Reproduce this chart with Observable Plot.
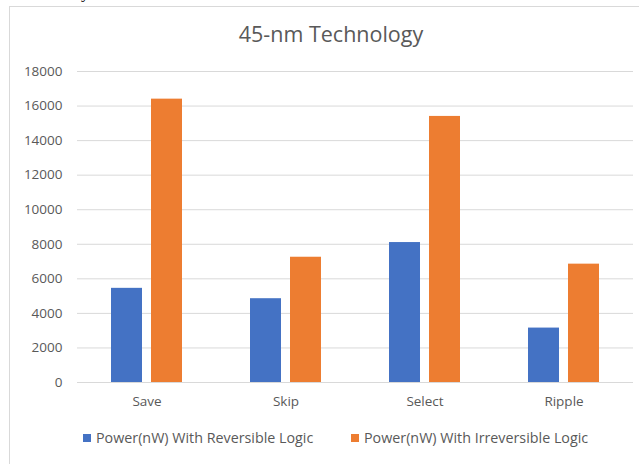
<!DOCTYPE html>
<html>
<head>
<meta charset="utf-8">
<script src="https://cdn.jsdelivr.net/npm/d3@7"></script>
<script src="https://cdn.jsdelivr.net/npm/@observablehq/plot@0.6"></script>
<style>
  html, body { margin: 0; padding: 0; background: #fff; }
  body { width: 639px; height: 464px; overflow: hidden; position: relative; font-family: "Open Sans", sans-serif; color: #595959; }
  #frame { position: absolute; left: 9px; top: 6px; width: 700px; height: 500px; border-left: 1px solid #d9d9d9; border-top: 1px solid #d9d9d9; }
  #stray { position: absolute; left: 81px; top: -17px; font-family: "Liberation Serif", serif; font-size: 17px; color: #000; }
  #title { position: absolute; left: 0; top: 19px; width: 662px; text-align: center; font-size: 21.5px; line-height: 30px; color: #595959; }
  #plot { position: absolute; left: 0; top: 50px; }
  .item { position: absolute; top: 428px; display: flex; align-items: center; font-size: 14.3px; line-height: 20px; white-space: nowrap; }
  .swatch { width: 8px; height: 8px; margin-right: 5px; }
</style>
</head>
<body>
<div id="frame"></div>
<div id="stray">y</div>
<div id="title">45-nm Technology</div>
<div id="plot"></div>
<div id="legend"></div>
<script>
// Power of four adder designs in 45-nm technology, with and without reversible logic
const categories = ["Save", "Skip", "Select", "Ripple"];
const seriesNames = ["Power(nW) With Reversible Logic", "Power(nW) With Irreversible Logic"];
const reversible = [5450, 4850, 8100, 3150];
const irreversible = [16400, 7250, 15400, 6850];
const yTicks = [0, 2000, 4000, 6000, 8000, 10000, 12000, 14000, 16000, 18000];
const colors = ["#4472C4", "#ED7D31"];

const rows = categories.flatMap((c, i) => [
  {category: c, series: seriesNames[0], value: reversible[i]},
  {category: c, series: seriesNames[1], value: irreversible[i]}
]);

const chart = Plot.plot({
  width: 639,
  height: 375,
  marginLeft: 77,
  marginRight: 6,
  marginTop: 21,
  marginBottom: 43,
  style: {fontFamily: "Open Sans", fontSize: "13.5px", color: "#595959", background: "transparent"},
  fx: {domain: categories, padding: 0, label: null},
  x: {domain: seriesNames, paddingInner: 0.225, paddingOuter: 0.85, axis: null},
  y: {domain: [0, 18000], label: null},
  color: {domain: seriesNames, range: colors},
  marks: [
    Plot.gridY(yTicks, {stroke: "#d9d9d9", strokeOpacity: 1, strokeWidth: 1}),
    Plot.axisY(yTicks, {tickSize: 0, tickPadding: 15, label: null, fill: "#595959", tickFormat: d => String(d)}),
    Plot.axisFx({anchor: "bottom", tickSize: 0, tickPadding: 14, label: null, fill: "#595959"}),
    Plot.barY(rows, {fx: "category", x: "series", y: "value", fill: "series"})
  ]
});
document.getElementById("plot").append(chart);

// Legend below the plot
const legend = document.getElementById("legend");
const legendLeft = [83, 351];
seriesNames.forEach((name, i) => {
  const item = document.createElement("div");
  item.className = "item";
  item.style.left = legendLeft[i] + "px";
  const sw = document.createElement("span");
  sw.className = "swatch";
  sw.style.background = colors[i];
  const label = document.createElement("span");
  label.textContent = name;
  item.append(sw, label);
  legend.append(item);
});
</script>
</body>
</html>
